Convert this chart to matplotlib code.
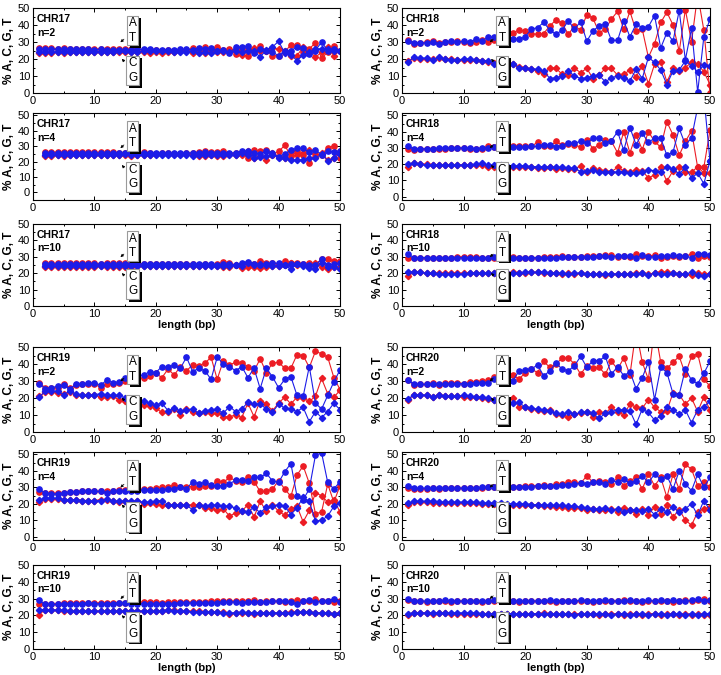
import matplotlib
matplotlib.use("Agg")
import matplotlib.pyplot as plt
import matplotlib.patheffects as pe
import numpy as np

plt.rcParams['font.family'] = ['Liberation Sans', 'DejaVu Sans']

RED = '#ec1c24'
BLUE = '#1c1ce8'

# ---- data: % of A, T (upper pair) and C, G (lower pair) vs length ----
chr17_n2_start = 1
chr17_n2_A = [26.3, 26.2, 26.2, 26.1, 26.2, 26.1, 26.0, 26.1, 26.0, 25.9,
              26.0, 25.9, 26.0, 25.8, 25.6, 25.9, 25.7, 25.5, 25.3, 25.2,
              25.0, 25.1, 25.0, 25.3, 25.2, 26.5, 25.0, 26.8, 25.5, 27.2,
              25.5, 25.8, 22.8, 26.5, 21.8, 25.5, 27.5, 25.0, 22.0, 22.0,
              24.0, 28.5, 28.0, 24.0, 26.0, 29.5, 20.5, 24.0, 27.5, 25.0]
chr17_n2_T = [25.7, 25.6, 25.7, 25.6, 25.7, 25.6, 25.7, 25.6, 25.6, 25.5,
              25.6, 25.5, 25.5, 25.4, 25.2, 25.5, 25.6, 25.8, 26.0, 25.5,
              25.3, 25.5, 25.5, 25.6, 25.7, 25.5, 26.5, 26.0, 26.5, 25.0,
              25.5, 23.5, 27.0, 27.0, 27.8, 23.5, 26.0, 25.0, 24.0, 22.0,
              25.0, 25.0, 27.0, 26.5, 23.0, 25.0, 30.0, 25.0, 26.0, 25.0]
chr17_n2_C = [23.7, 23.8, 23.8, 23.9, 23.8, 23.9, 24.0, 23.9, 24.0, 24.1,
              24.0, 24.1, 24.0, 24.2, 24.4, 24.1, 24.3, 24.0, 23.8, 24.0,
              23.5, 24.0, 24.2, 24.5, 24.8, 23.5, 25.0, 23.5, 24.5, 24.0,
              24.0, 25.5, 25.5, 22.5, 25.5, 26.5, 25.0, 25.0, 26.5, 26.0,
              25.0, 21.5, 22.0, 27.0, 25.0, 21.0, 24.0, 27.0, 22.0, 25.0]
chr17_n2_G = [24.1, 24.2, 24.2, 24.3, 24.2, 24.3, 24.2, 24.3, 24.3, 24.4,
              24.3, 24.4, 24.4, 24.5, 24.6, 24.4, 24.3, 24.5, 24.6, 24.5,
              24.8, 24.6, 24.4, 24.3, 24.2, 24.5, 23.5, 24.0, 23.5, 24.5,
              24.5, 24.0, 25.0, 24.0, 25.0, 25.0, 21.0, 25.5, 27.0, 30.5,
              23.5, 22.5, 19.0, 22.5, 24.0, 26.0, 26.0, 26.0, 25.0, 25.0]

chr17_n4_start = 2
chr17_n4_A = [26.2, 26.2, 26.1, 26.2, 26.1, 26.1, 26.0, 26.1, 26.0,
              26.0, 25.9, 25.9, 25.8, 25.7, 25.8, 25.6, 25.9, 25.5, 25.0,
              25.3, 25.2, 25.1, 25.0, 25.2, 25.3, 26.2, 26.5, 26.0, 26.2,
              26.8, 25.0, 25.8, 25.5, 22.5, 27.2, 27.0, 27.5, 24.5, 26.5,
              30.5, 23.5, 26.5, 24.5, 19.0, 25.0, 24.5, 29.0, 30.0, 22.5]
chr17_n4_T = [25.6, 25.6, 25.5, 25.6, 25.5, 25.5, 25.5, 25.6, 25.5,
              25.4, 25.5, 25.5, 25.4, 25.3, 25.4, 25.5, 25.6, 25.8, 25.5,
              25.5, 25.4, 25.5, 25.5, 25.5, 25.6, 25.8, 26.0, 25.5, 25.4,
              25.5, 25.6, 25.5, 27.0, 26.5, 25.5, 25.0, 26.5, 25.5, 23.0,
              25.0, 27.5, 28.5, 28.5, 26.0, 27.5, 24.5, 27.0, 26.0, 26.5]
chr17_n4_C = [23.8, 23.8, 23.9, 23.8, 23.9, 23.9, 24.0, 23.9, 24.0,
              24.0, 24.1, 24.1, 24.2, 24.3, 23.5, 24.4, 24.1, 24.5, 25.0,
              24.7, 24.8, 24.9, 25.0, 24.8, 24.7, 23.5, 23.5, 24.0, 23.8,
              23.5, 25.0, 24.0, 24.5, 27.0, 22.5, 23.5, 21.0, 25.5, 23.5,
              22.0, 26.5, 24.0, 25.5, 27.5, 23.0, 25.5, 21.0, 22.0, 27.0]
chr17_n4_G = [24.3, 24.3, 24.4, 24.3, 24.4, 24.4, 24.4, 24.3, 24.4,
              24.5, 24.4, 24.4, 24.5, 24.6, 24.5, 24.4, 24.3, 24.2, 24.5,
              24.4, 24.5, 24.5, 24.4, 24.4, 23.5, 24.0, 24.3, 24.0, 24.5,
              24.0, 24.0, 24.2, 25.5, 24.0, 22.5, 23.0, 23.5, 24.5, 22.5,
              22.0, 21.0, 21.0, 21.0, 22.5, 22.0, 25.0, 20.5, 22.0, 25.0]

chr17_n10_start = 2
chr17_n10_A = [26.0, 26.0, 26.1, 26.0, 26.0, 26.1, 26.0, 26.0, 26.0,
               25.9, 26.0, 26.0, 26.0, 26.1, 26.0, 25.9, 25.8, 25.8, 25.7,
               25.6, 25.8, 25.5, 25.7, 25.6, 25.5, 25.3, 25.5, 25.0, 25.5,
               26.8, 26.5, 24.8, 25.2, 26.5, 25.5, 27.2, 26.5, 26.0, 25.5,
               27.5, 26.5, 26.5, 25.5, 26.5, 25.5, 28.5, 28.5, 27.5, 27.5]
chr17_n10_T = [25.5, 25.5, 25.5, 25.6, 25.5, 25.5, 25.5, 25.6, 25.5,
               25.5, 25.5, 25.6, 25.5, 25.5, 25.5, 25.6, 25.6, 25.7, 25.8,
               25.6, 25.7, 25.8, 25.6, 25.7, 25.7, 25.8, 25.5, 25.7, 25.0,
               25.5, 25.5, 25.0, 26.5, 27.0, 25.5, 25.0, 25.5, 26.0, 26.0,
               25.0, 25.5, 25.5, 25.5, 25.0, 25.0, 28.5, 25.0, 25.5, 26.0]
chr17_n10_C = [24.0, 24.0, 23.9, 24.0, 24.0, 23.9, 24.0, 24.0, 24.0,
               24.1, 24.0, 24.0, 24.0, 23.9, 24.0, 24.1, 24.2, 24.2, 24.3,
               24.4, 24.2, 24.5, 24.3, 24.4, 24.5, 24.6, 24.5, 25.0, 24.5,
               23.5, 23.8, 25.0, 23.0, 23.5, 24.0, 23.0, 23.5, 24.5, 24.5,
               25.0, 26.0, 25.0, 25.0, 24.5, 26.5, 23.5, 22.5, 23.5, 24.0]
chr17_n10_G = [24.5, 24.5, 24.5, 24.4, 24.5, 24.5, 24.5, 24.4, 24.5,
               24.5, 24.5, 24.4, 24.5, 24.5, 24.5, 24.4, 24.4, 24.3, 24.2,
               24.4, 24.3, 24.2, 24.4, 24.3, 24.3, 24.2, 24.5, 24.3, 24.5,
               24.5, 24.5, 25.0, 24.5, 26.0, 25.0, 25.5, 25.0, 24.5, 24.5,
               25.0, 22.5, 25.5, 24.5, 23.0, 22.5, 26.5, 24.0, 23.5, 22.5]

chr18_n2_start = 1
chr18_n2_A = [31.3, 29.0, 29.5, 30.0, 30.5, 29.5, 30.0, 30.0, 30.5, 30.0,
              29.5, 30.0, 31.0, 30.0, 31.0, 33.0, 34.0, 35.5, 37.0, 36.5,
              35.0, 34.5, 35.0, 39.5, 43.0, 41.0, 34.5, 39.5, 37.0, 46.0,
              44.0, 35.5, 37.5, 43.5, 48.0, 37.5, 48.0, 36.5, 37.5, 21.0,
              29.0, 41.5, 47.5, 40.0, 24.5, 49.0, 30.0, 58.0, 37.0, 0.0]
chr18_n2_T = [30.5, 29.5, 29.5, 29.5, 30.0, 29.0, 30.0, 30.5, 30.0, 30.5,
              30.0, 31.5, 30.5, 33.0, 33.0, 32.0, 32.5, 32.0, 31.5, 33.0,
              37.5, 38.5, 41.5, 37.0, 34.5, 37.0, 42.5, 37.5, 42.0, 30.5,
              36.5, 39.5, 40.5, 31.0, 31.0, 42.5, 33.0, 40.5, 38.5, 39.0,
              45.5, 26.5, 35.5, 30.5, 48.5, 19.5, 38.0, 0.5, 33.0, 43.5]
chr18_n2_C = [19.0, 20.5, 20.0, 20.0, 20.0, 20.5, 20.0, 20.0, 19.5, 19.5,
              19.5, 19.5, 19.0, 18.0, 17.5, 18.0, 17.5, 17.0, 15.5, 15.0,
              14.0, 13.0, 11.0, 15.0, 14.5, 11.0, 10.5, 14.5, 12.0, 14.5,
              8.5, 10.5, 14.5, 14.5, 10.5, 11.0, 13.5, 9.5, 16.0, 5.5,
              17.0, 18.5, 6.5, 14.5, 13.0, 15.0, 18.0, 17.0, 12.5, 5.0]
chr18_n2_G = [18.5, 21.0, 20.5, 20.5, 19.5, 21.0, 20.0, 19.5, 19.5, 20.0,
              20.0, 19.5, 19.0, 19.0, 17.0, 17.0, 16.0, 17.0, 15.0, 14.5,
              14.0, 14.0, 13.0, 8.5, 9.0, 10.0, 13.0, 10.0, 8.5, 9.0,
              10.0, 10.5, 6.5, 9.0, 10.0, 9.0, 7.0, 14.0, 8.5, 21.0,
              18.0, 13.5, 5.0, 13.0, 13.5, 19.0, 16.0, 12.5, 16.5, 16.0]

chr18_n4_start = 1
chr18_n4_A = [29.5, 29.0, 29.5, 29.5, 29.5, 29.5, 29.5, 30.0, 30.0, 30.0,
              29.5, 29.5, 29.5, 31.0, 30.5, 30.0, 31.0, 31.5, 31.0, 31.0,
              31.0, 33.5, 31.0, 31.0, 34.0, 32.0, 32.5, 32.0, 30.5, 35.0,
              29.5, 32.0, 35.0, 34.0, 27.0, 40.0, 27.0, 38.0, 29.0, 40.0,
              34.0, 30.5, 46.0, 38.0, 25.5, 34.0, 40.5, 18.0, 18.0, 41.0]
chr18_n4_T = [31.0, 29.5, 29.5, 29.5, 29.5, 30.0, 30.0, 30.0, 30.0, 30.0,
              30.0, 29.5, 30.0, 30.0, 30.5, 30.5, 30.5, 30.5, 30.5, 30.5,
              31.0, 31.0, 32.0, 32.0, 30.5, 31.5, 33.0, 33.0, 34.0, 33.0,
              36.0, 36.0, 33.0, 34.5, 40.0, 28.5, 42.5, 32.0, 39.0, 33.5,
              36.0, 36.0, 25.5, 27.5, 42.0, 32.0, 36.0, 55.0, 62.0, 22.0]
chr18_n4_C = [18.5, 20.5, 20.0, 20.0, 19.5, 19.5, 19.5, 19.5, 19.5, 19.5,
              19.5, 19.5, 19.5, 18.5, 18.5, 19.0, 18.5, 18.5, 18.0, 18.5,
              18.0, 17.5, 17.5, 18.0, 17.0, 17.5, 17.0, 17.0, 19.0, 15.0,
              17.5, 16.5, 16.0, 15.5, 18.0, 16.0, 15.0, 16.5, 16.0, 11.5,
              13.5, 18.0, 9.5, 16.0, 18.0, 15.5, 15.0, 18.5, 14.5, 14.5]
chr18_n4_G = [20.0, 20.5, 20.0, 19.5, 19.5, 19.5, 19.5, 19.5, 19.5, 19.5,
              19.5, 20.0, 20.5, 19.5, 19.5, 19.5, 19.0, 19.0, 19.0, 19.0,
              18.5, 18.5, 18.5, 18.0, 18.0, 18.0, 17.5, 17.5, 15.5, 16.0,
              16.5, 15.0, 15.5, 15.5, 15.0, 15.5, 14.5, 14.5, 15.0, 16.5,
              16.0, 15.0, 18.5, 17.0, 14.0, 18.0, 11.5, 14.5, 8.0, 22.0]

chr18_n10_start = 1
chr18_n10_A = [29.0, 29.5, 29.5, 29.5, 29.5, 29.5, 29.5, 29.5, 30.0, 30.0,
               30.0, 30.0, 29.5, 29.5, 29.5, 30.0, 29.5, 30.0, 29.5, 29.5,
               29.5, 29.5, 30.0, 30.0, 30.0, 30.5, 30.0, 30.0, 30.0, 30.5,
               30.5, 30.5, 31.0, 31.0, 30.0, 30.5, 30.0, 31.5, 30.5, 30.5,
               31.0, 29.0, 30.0, 30.5, 30.0, 30.5, 31.5, 29.0, 30.5, 30.0]
chr18_n10_T = [31.5, 29.5, 29.5, 29.5, 29.5, 29.5, 29.5, 29.5, 29.5, 29.5,
               29.5, 29.5, 29.5, 29.5, 30.0, 30.0, 29.5, 29.5, 29.5, 29.5,
               29.5, 29.5, 29.5, 29.5, 29.5, 30.0, 30.0, 30.0, 30.0, 30.0,
               30.0, 30.5, 30.5, 30.0, 30.5, 30.5, 30.5, 29.5, 31.0, 30.0,
               30.0, 30.5, 30.5, 31.0, 30.5, 30.5, 29.5, 32.0, 32.0, 31.0]
chr18_n10_C = [18.5, 20.5, 20.5, 20.0, 20.0, 20.0, 20.0, 20.0, 20.0, 20.0,
               20.0, 20.0, 20.0, 20.0, 20.0, 20.0, 20.0, 20.5, 20.0, 20.0,
               20.5, 20.5, 20.0, 20.0, 20.0, 19.5, 20.0, 19.5, 20.0, 19.5,
               19.5, 19.5, 19.0, 19.5, 19.5, 19.5, 19.5, 20.0, 20.0, 19.5,
               20.0, 21.0, 20.5, 20.0, 19.5, 19.5, 19.0, 20.0, 19.5, 19.5]
chr18_n10_G = [21.0, 20.5, 20.5, 20.0, 20.0, 19.5, 19.5, 19.5, 19.5, 19.5,
               20.0, 20.0, 20.0, 20.0, 20.0, 20.0, 20.0, 20.0, 20.0, 20.5,
               20.5, 20.5, 21.0, 20.0, 20.0, 20.0, 19.5, 20.0, 20.0, 19.5,
               19.5, 19.5, 19.5, 19.5, 19.5, 19.5, 19.5, 19.5, 20.0, 19.0,
               20.0, 19.5, 19.5, 20.0, 19.5, 19.5, 20.5, 19.0, 18.5, 19.5]

chr19_n2_start = 1
chr19_n2_A = [29.0, 26.0, 26.0, 26.0, 28.0, 26.0, 27.5, 28.0, 28.0, 28.5,
              26.0, 28.0, 28.5, 29.0, 30.0, 31.5, 31.0, 32.0, 33.0, 34.5,
              32.0, 37.0, 33.5, 38.5, 36.0, 39.5, 39.0, 40.5, 44.0, 31.0,
              42.0, 39.5, 41.0, 40.5, 38.5, 36.0, 43.0, 35.0, 40.5, 41.0,
              37.5, 37.5, 45.5, 45.0, 38.0, 47.5, 46.0, 44.0, 32.0, 25.0]
chr19_n2_T = [28.5, 25.5, 26.0, 27.0, 27.5, 25.5, 28.0, 28.0, 29.0, 29.0,
              27.5, 30.5, 29.0, 29.5, 31.5, 33.0, 33.0, 33.5, 35.5, 35.0,
              38.5, 38.0, 39.5, 37.5, 44.0, 35.5, 37.5, 36.0, 31.0, 44.0,
              40.0, 38.5, 36.0, 38.5, 32.0, 37.5, 25.5, 37.5, 32.5, 26.0,
              31.0, 32.5, 21.5, 21.0, 38.5, 17.0, 13.5, 21.5, 29.5, 36.5]
chr19_n2_C = [21.0, 23.5, 23.5, 23.0, 22.5, 23.5, 22.0, 21.5, 21.5, 22.0,
              20.5, 20.5, 21.0, 19.0, 18.5, 17.0, 16.5, 16.0, 15.5, 14.0,
              11.5, 12.0, 13.5, 10.0, 13.5, 11.5, 11.0, 11.5, 11.0, 11.0,
              9.0, 9.0, 10.0, 8.5, 17.0, 9.0, 18.5, 16.5, 12.5, 17.0,
              20.5, 16.5, 20.5, 20.0, 18.0, 21.0, 31.5, 22.5, 20.5, 24.5]
chr19_n2_G = [20.5, 24.0, 24.0, 24.0, 22.0, 24.0, 22.5, 21.5, 21.5, 22.0,
              22.5, 21.5, 21.5, 21.5, 20.0, 19.0, 18.0, 18.0, 17.0, 16.0,
              17.0, 12.5, 14.0, 12.5, 13.0, 13.5, 11.0, 12.5, 13.0, 13.5,
              11.0, 15.0, 12.0, 13.5, 17.5, 16.5, 16.5, 13.5, 11.5, 16.5,
              14.0, 13.5, 12.0, 14.5, 6.0, 12.0, 8.5, 12.0, 17.0, 13.0]

chr19_n4_start = 1
chr19_n4_A = [27.0, 26.5, 26.5, 26.5, 26.5, 27.0, 27.0, 27.5, 27.5, 27.5,
              27.5, 27.5, 27.5, 28.5, 28.5, 28.5, 28.5, 29.0, 29.0, 29.5,
              30.0, 30.0, 31.5, 30.5, 30.5, 30.5, 30.0, 31.0, 31.0, 34.0,
              33.0, 36.0, 34.0, 33.5, 36.0, 33.5, 27.5, 27.5, 29.0, 34.0,
              29.0, 24.5, 37.5, 43.0, 32.5, 14.0, 15.0, 32.0, 21.0, 31.0]
chr19_n4_T = [29.0, 26.5, 26.0, 26.0, 26.5, 27.0, 27.0, 27.5, 27.5, 27.5,
              27.5, 26.5, 27.5, 27.5, 28.0, 27.5, 28.0, 28.5, 28.5, 28.5,
              28.5, 29.0, 29.0, 30.5, 29.0, 33.5, 32.0, 33.0, 31.5, 31.0,
              31.0, 32.0, 34.5, 34.5, 34.0, 36.0, 36.0, 38.5, 34.0, 33.0,
              39.5, 44.5, 24.5, 22.5, 29.0, 49.5, 51.0, 33.0, 29.0, 33.5]
chr19_n4_C = [21.0, 23.0, 23.0, 23.0, 22.5, 22.5, 22.5, 22.0, 22.0, 22.0,
              22.5, 22.5, 22.0, 21.0, 21.5, 21.0, 21.5, 20.0, 20.5, 20.0,
              19.5, 19.0, 19.5, 19.0, 19.0, 19.5, 19.0, 17.5, 17.5, 16.0,
              17.0, 12.5, 14.5, 15.5, 19.5, 12.0, 21.5, 15.5, 19.5, 15.5,
              13.0, 17.0, 18.5, 9.0, 16.0, 26.5, 25.0, 21.0, 22.5, 15.0]
chr19_n4_G = [22.5, 23.5, 23.5, 23.5, 22.5, 22.5, 22.5, 22.0, 22.0, 22.0,
              22.0, 23.0, 21.5, 21.5, 21.5, 21.5, 21.5, 21.0, 21.0, 21.5,
              22.0, 19.5, 19.5, 19.5, 19.0, 16.5, 19.0, 18.5, 19.5, 19.0,
              18.5, 18.5, 17.5, 15.5, 15.0, 18.0, 14.5, 18.0, 18.5, 19.5,
              18.5, 13.5, 17.5, 24.0, 21.5, 9.5, 10.0, 12.5, 18.5, 20.5]

chr19_n10_start = 1
chr19_n10_A = [26.5, 27.0, 27.0, 27.0, 27.5, 27.5, 27.5, 27.5, 27.5, 27.5,
               27.5, 27.5, 27.5, 27.5, 27.5, 28.0, 28.0, 28.0, 28.0, 28.0,
               27.5, 28.0, 28.0, 28.0, 28.0, 28.0, 28.0, 28.0, 28.5, 28.5,
               28.5, 28.5, 28.5, 28.5, 28.5, 29.0, 28.0, 28.5, 28.5, 28.5,
               28.0, 28.5, 29.0, 28.5, 28.5, 29.5, 28.5, 28.5, 28.0, 28.5]
chr19_n10_T = [29.0, 26.5, 26.5, 26.5, 27.0, 27.0, 27.0, 27.0, 27.5, 27.0,
               27.0, 27.0, 27.0, 27.5, 27.5, 27.0, 27.0, 27.0, 27.0, 27.0,
               27.0, 27.0, 27.0, 27.5, 27.5, 27.5, 27.5, 27.5, 27.5, 27.5,
               28.0, 28.0, 28.0, 27.5, 28.0, 28.0, 28.0, 28.0, 28.5, 28.5,
               28.5, 28.0, 26.5, 28.5, 29.0, 28.0, 28.5, 28.5, 30.0, 28.0]
chr19_n10_C = [20.5, 23.5, 23.0, 23.0, 22.5, 22.5, 22.5, 22.5, 22.5, 22.5,
               22.5, 22.5, 22.5, 22.5, 22.5, 22.5, 22.5, 22.5, 22.5, 22.5,
               22.5, 23.0, 23.0, 22.5, 22.5, 22.5, 22.5, 22.0, 22.0, 22.0,
               22.0, 21.0, 21.5, 21.5, 21.5, 21.0, 21.5, 21.5, 21.5, 21.5,
               21.5, 22.0, 22.0, 22.0, 22.0, 21.5, 21.5, 21.5, 21.0, 21.5]
chr19_n10_G = [23.5, 23.5, 23.5, 23.0, 23.0, 22.5, 22.5, 22.5, 22.5, 22.5,
               22.5, 22.5, 22.5, 22.5, 22.5, 22.5, 22.5, 22.5, 22.5, 22.5,
               22.5, 23.5, 22.5, 22.5, 22.5, 22.0, 22.0, 22.0, 22.0, 22.0,
               21.5, 21.5, 21.5, 22.0, 21.5, 21.5, 21.5, 21.5, 21.5, 21.5,
               21.5, 21.5, 22.0, 22.0, 22.0, 21.5, 21.5, 21.5, 21.0, 21.5]

chr20_n2_start = 1
chr20_n2_A = [30.5, 27.5, 28.0, 28.0, 29.0, 27.5, 29.0, 29.0, 29.0, 28.5,
              29.5, 29.5, 30.0, 30.5, 32.5, 34.0, 34.0, 33.5, 31.0, 35.0,
              37.0, 35.0, 41.5, 38.0, 40.0, 43.5, 43.5, 40.0, 34.0, 39.0,
              37.5, 38.0, 34.0, 41.5, 37.0, 43.5, 33.5, 60.0, 41.0, 31.0,
              62.0, 41.0, 37.5, 41.0, 44.5, 34.0, 44.5, 46.0, 31.0, 27.0]
chr20_n2_T = [30.5, 28.0, 28.0, 28.0, 28.5, 28.0, 28.0, 28.5, 28.5, 28.5,
              28.0, 29.0, 29.0, 29.0, 31.0, 31.5, 29.5, 30.0, 36.0, 36.5,
              37.0, 39.5, 33.0, 36.0, 40.5, 37.0, 36.0, 39.0, 44.5, 38.0,
              42.0, 42.0, 44.5, 34.0, 38.5, 33.0, 35.5, 25.5, 32.0, 41.0,
              19.0, 38.0, 35.0, 22.5, 22.0, 37.0, 30.5, 28.5, 34.5, 41.5]
chr20_n2_C = [19.0, 22.0, 21.5, 21.5, 20.5, 22.0, 21.0, 21.0, 21.0, 20.5,
              20.5, 20.5, 20.0, 19.5, 19.0, 19.0, 18.5, 20.0, 14.5, 14.5,
              13.5, 13.0, 12.5, 13.0, 10.5, 10.0, 9.0, 10.5, 11.0, 12.0,
              9.0, 11.5, 11.0, 14.5, 12.0, 10.0, 16.5, 14.5, 14.0, 19.0,
              14.5, 12.0, 12.5, 23.0, 22.0, 16.5, 20.0, 12.0, 20.5, 13.0]
chr20_n2_G = [19.5, 22.0, 22.0, 21.5, 20.5, 22.0, 21.0, 21.0, 21.0, 21.5,
              21.0, 20.5, 20.5, 20.0, 19.0, 16.5, 16.5, 17.0, 17.5, 14.5,
              14.0, 13.5, 13.0, 12.5, 11.0, 10.5, 11.5, 10.5, 11.5, 11.5,
              11.0, 8.0, 11.0, 12.0, 13.0, 13.0, 12.5, 4.5, 13.5, 11.5,
              7.0, 9.5, 15.0, 13.0, 10.5, 13.0, 5.5, 13.0, 15.0, 18.0]

chr20_n4_start = 1
chr20_n4_A = [29.5, 29.0, 29.0, 29.0, 29.5, 29.0, 29.5, 29.5, 29.5, 29.5,
              29.5, 29.5, 29.5, 30.0, 30.0, 30.5, 30.0, 30.5, 30.5, 31.0,
              31.0, 31.0, 31.5, 31.0, 32.0, 32.0, 33.0, 33.0, 32.5, 37.0,
              33.0, 34.0, 33.5, 32.0, 36.0, 31.0, 34.0, 36.0, 29.0, 38.0,
              31.0, 36.0, 24.0, 38.0, 29.0, 44.0, 41.0, 31.0, 33.0, 30.0]
chr20_n4_T = [31.0, 29.5, 29.5, 29.5, 29.5, 29.5, 29.5, 29.5, 29.5, 29.5,
              29.5, 29.5, 30.0, 30.0, 30.0, 30.0, 30.0, 30.0, 30.5, 30.5,
              30.5, 31.0, 31.0, 31.0, 31.0, 31.5, 31.5, 32.0, 32.5, 32.0,
              33.0, 33.5, 32.0, 34.5, 33.0, 35.0, 32.5, 34.0, 37.0, 33.0,
              38.0, 35.0, 37.0, 29.0, 40.0, 32.0, 28.0, 38.0, 30.0, 36.0]
chr20_n4_C = [19.5, 21.0, 21.0, 21.0, 20.5, 20.5, 20.5, 20.5, 20.5, 20.5,
              20.5, 20.5, 20.0, 20.0, 20.0, 20.0, 19.5, 19.5, 19.5, 19.0,
              19.0, 19.0, 18.5, 18.5, 18.0, 18.0, 17.5, 17.5, 17.5, 16.0,
              17.0, 16.5, 16.0, 17.0, 15.0, 17.5, 16.0, 14.0, 17.0, 13.5,
              18.0, 14.0, 19.0, 12.0, 16.5, 10.0, 7.0, 15.0, 17.0, 18.0]
chr20_n4_G = [20.5, 21.5, 21.5, 21.5, 21.5, 21.0, 21.0, 21.0, 21.0, 21.0,
              21.0, 21.0, 20.5, 20.5, 20.5, 20.5, 20.0, 20.0, 20.0, 20.0,
              19.5, 19.5, 19.5, 19.0, 19.0, 19.0, 18.5, 18.5, 18.0, 17.5,
              17.0, 17.0, 17.5, 16.0, 17.0, 15.0, 16.5, 16.0, 15.5, 17.0,
              13.5, 17.0, 15.0, 18.0, 15.0, 17.0, 20.0, 13.0, 22.0, 16.0]

chr20_n10_start = 1
chr20_n10_A = [29.0, 28.5, 28.5, 28.0, 28.5, 28.5, 28.5, 28.0, 28.5, 28.5,
               28.5, 28.5, 28.0, 28.5, 28.5, 28.5, 28.5, 28.5, 28.0, 28.5,
               28.5, 28.5, 28.5, 28.5, 28.0, 28.5, 28.5, 28.5, 28.5, 28.5,
               28.0, 28.5, 28.5, 28.5, 28.5, 29.0, 28.5, 28.5, 28.0, 28.5,
               28.5, 28.5, 28.5, 28.0, 28.5, 29.0, 28.5, 29.0, 29.5, 28.5]
chr20_n10_T = [30.0, 28.5, 28.5, 28.5, 28.5, 28.5, 29.0, 28.5, 28.5, 28.5,
               28.5, 28.5, 28.5, 28.5, 29.0, 28.5, 28.5, 28.5, 28.5, 28.5,
               28.5, 28.5, 28.5, 29.0, 28.5, 28.5, 28.5, 28.5, 29.0, 28.5,
               28.5, 28.5, 29.0, 28.5, 28.5, 28.5, 29.0, 28.5, 28.5, 29.0,
               28.5, 29.0, 28.5, 29.0, 28.5, 28.5, 29.0, 29.5, 28.5, 29.0]
chr20_n10_C = [20.0, 21.5, 21.5, 21.5, 21.0, 21.5, 21.5, 21.0, 21.0, 21.0,
               21.0, 21.0, 21.0, 21.0, 21.0, 21.0, 21.0, 21.0, 21.0, 21.0,
               21.0, 21.0, 21.5, 21.0, 21.0, 21.0, 21.0, 21.0, 21.0, 21.0,
               21.0, 20.5, 21.0, 21.0, 21.0, 20.5, 21.0, 21.0, 20.5, 21.0,
               21.0, 20.5, 21.0, 21.0, 20.5, 21.0, 20.5, 21.0, 20.0, 20.5]
chr20_n10_G = [21.0, 21.5, 21.5, 21.5, 21.5, 21.5, 21.5, 21.5, 21.5, 21.5,
               21.5, 21.5, 21.0, 21.0, 21.0, 21.0, 21.0, 21.0, 21.0, 21.0,
               21.0, 21.0, 21.0, 21.0, 21.0, 21.0, 21.0, 20.5, 21.0, 21.0,
               21.0, 21.0, 21.0, 20.5, 21.0, 21.0, 20.5, 21.0, 21.0, 20.5,
               21.0, 21.0, 20.5, 21.0, 21.0, 20.5, 21.0, 20.5, 21.0, 21.0]

# panel list: (chromosome, n, start, A, T, C, G, row, col)
panels = [
    ('CHR17', 2, chr17_n2_start, chr17_n2_A, chr17_n2_T, chr17_n2_C, chr17_n2_G, 0, 0),
    ('CHR17', 4, chr17_n4_start, chr17_n4_A, chr17_n4_T, chr17_n4_C, chr17_n4_G, 1, 0),
    ('CHR17', 10, chr17_n10_start, chr17_n10_A, chr17_n10_T, chr17_n10_C, chr17_n10_G, 2, 0),
    ('CHR18', 2, chr18_n2_start, chr18_n2_A, chr18_n2_T, chr18_n2_C, chr18_n2_G, 0, 1),
    ('CHR18', 4, chr18_n4_start, chr18_n4_A, chr18_n4_T, chr18_n4_C, chr18_n4_G, 1, 1),
    ('CHR18', 10, chr18_n10_start, chr18_n10_A, chr18_n10_T, chr18_n10_C, chr18_n10_G, 2, 1),
    ('CHR19', 2, chr19_n2_start, chr19_n2_A, chr19_n2_T, chr19_n2_C, chr19_n2_G, 3, 0),
    ('CHR19', 4, chr19_n4_start, chr19_n4_A, chr19_n4_T, chr19_n4_C, chr19_n4_G, 4, 0),
    ('CHR19', 10, chr19_n10_start, chr19_n10_A, chr19_n10_T, chr19_n10_C, chr19_n10_G, 5, 0),
    ('CHR20', 2, chr20_n2_start, chr20_n2_A, chr20_n2_T, chr20_n2_C, chr20_n2_G, 3, 1),
    ('CHR20', 4, chr20_n4_start, chr20_n4_A, chr20_n4_T, chr20_n4_C, chr20_n4_G, 4, 1),
    ('CHR20', 10, chr20_n10_start, chr20_n10_A, chr20_n10_T, chr20_n10_C, chr20_n10_G, 5, 1),
]

W, H = 721, 675
fig = plt.figure(figsize=(W / 100, H / 100), dpi=100)

# pixel boxes (top, bottom) of each row, (left, right) of each column
rows_px = [(8, 93), (113, 200), (224, 306), (347, 432), (452, 540), (565, 649)]
cols_px = [(33, 340), (402, 710)]
row_ylim = [(0, 50), (-2, 51.5), (0, 50), (0, 50), (-2, 51.5), (0, 50)]

for chrom, n, start, A, T, C, G, row, col in panels:
    top, bot = rows_px[row]
    left, right = cols_px[col]
    ax = fig.add_axes([left / W, 1 - bot / H, (right - left) / W, (bot - top) / H])
    x = np.arange(start, start + len(A))
    ax.plot(x, A, '-o', color=RED, lw=0.8, ms=3.8)
    ax.plot(x, C, '-D', color=RED, lw=0.8, ms=3.2)
    ax.plot(x, T, '-o', color=BLUE, lw=0.8, ms=3.8)
    ax.plot(x, G, '-D', color=BLUE, lw=0.8, ms=3.2)

    ax.set_xlim(0, 50)
    ylim = row_ylim[row]
    if chrom == 'CHR17' and n == 4:
        ylim = (-5, 51.5)
    ax.set_ylim(*ylim)
    ax.set_xticks([0, 10, 20, 30, 40, 50])
    ax.set_yticks([0, 10, 20, 30, 40, 50])
    ax.set_xticks(np.arange(5, 50, 10), minor=True)
    ax.set_yticks(np.arange(5, 50, 10), minor=True)
    ax.tick_params(which='both', direction='in', top=True, right=True,
                   labelsize=8, pad=2, width=0.7)
    ax.tick_params(which='major', length=3)
    ax.tick_params(which='minor', length=1.5)
    for s in ax.spines.values():
        s.set_linewidth(0.8)

    ax.set_ylabel('% A, C, G, T', fontsize=8.5, fontweight='bold')
    ax.yaxis.set_label_coords(-0.058, 0.5)
    if row in (2, 5):
        ax.set_xlabel('length (bp)', fontsize=8, fontweight='bold', labelpad=1)

    ax.text(0.013, 0.93, '%s\nn=%d' % (chrom, n), transform=ax.transAxes,
            ha='left', va='top', fontsize=7.5, fontweight='bold', linespacing=1.45)

    for label, yc in (('A\nT', 0.735), ('C\nG', 0.265)):
        t = ax.text(0.325, yc, label, transform=ax.transAxes, ha='center',
                    va='center', fontsize=8.5, linespacing=1.25, zorder=5,
                    bbox=dict(boxstyle='square,pad=0.15', fc='white',
                              ec='#9a9a9a', lw=0.8))
        t.get_bbox_patch().set_path_effects(
            [pe.SimplePatchShadow(offset=(2, -2), shadow_rgbFace='black', alpha=1.0),
             pe.Normal()])
    ax.annotate('', xy=(0.278, 0.575), xytext=(0.303, 0.655),
                xycoords='axes fraction',
                arrowprops=dict(arrowstyle='-|>', lw=0.5, color='k', mutation_scale=4))
    ax.annotate('', xy=(0.283, 0.425), xytext=(0.303, 0.35),
                xycoords='axes fraction',
                arrowprops=dict(arrowstyle='-|>', lw=0.5, color='k', mutation_scale=4))

fig.savefig('out.png', dpi=100)
